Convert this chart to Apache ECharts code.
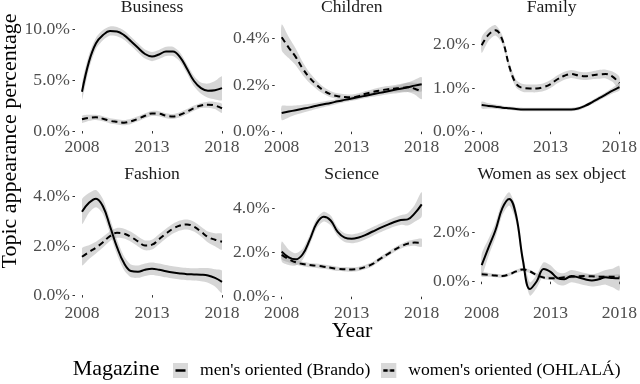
<!DOCTYPE html>
<html>
<head>
<meta charset="utf-8">
<script src="https://cdn.jsdelivr.net/npm/echarts@6/dist/echarts.min.js"></script>
<style>
  html, body { margin: 0; background: #fff; }
  #chart { width: 640px; height: 384px; }
</style>
</head>
<body>
<div id="chart"></div>
<script>
  // smoothed fits, every half year
  const years = [2008, 2008.5, 2009, 2009.5, 2010, 2010.5, 2011, 2011.5, 2012, 2012.5, 2013,
    2013.5, 2014, 2014.5, 2015, 2015.5, 2016, 2016.5, 2017, 2017.5, 2018]
  const xTicks = [2008, 2013, 2018]

  const businessMen = [3.85, 6.8, 8.6, 9.4, 9.8, 9.75, 9.4, 8.8, 8.15, 7.55, 7.3, 7.5, 7.8, 7.8, 7.25, 6.1, 4.9, 4.2, 3.95, 4.0, 4.2]
  const businessMenSe = [0.8, 0.7, 0.55, 0.5, 0.45, 0.45, 0.45, 0.45, 0.45, 0.45, 0.45, 0.45, 0.45, 0.45, 0.45, 0.45, 0.5, 0.55, 0.7, 0.9, 1.15]
  const businessWomen = [1.15, 1.3, 1.34, 1.2, 1.0, 0.9, 0.82, 0.95, 1.2, 1.5, 1.72, 1.7, 1.5, 1.42, 1.6, 1.9, 2.25, 2.5, 2.58, 2.5, 2.22]
  const businessWomenSe = [0.35, 0.3, 0.25, 0.25, 0.25, 0.25, 0.25, 0.25, 0.25, 0.25, 0.25, 0.25, 0.25, 0.25, 0.25, 0.25, 0.25, 0.25, 0.3, 0.35, 0.45]
  const businessTicks = [0, 5, 10]

  const childrenMen = [0.08, 0.086, 0.092, 0.098, 0.104, 0.111, 0.117, 0.123, 0.13, 0.136, 0.142, 0.148, 0.154, 0.16, 0.166, 0.172, 0.178, 0.184, 0.19, 0.197, 0.203]
  const childrenMenSe = [0.03, 0.025, 0.02, 0.017, 0.015, 0.013, 0.012, 0.011, 0.01, 0.01, 0.01, 0.01, 0.01, 0.011, 0.012, 0.013, 0.015, 0.017, 0.02, 0.025, 0.03]
  const childrenWomen = [0.404, 0.36, 0.32, 0.27, 0.23, 0.2, 0.176, 0.16, 0.152, 0.148, 0.147, 0.152, 0.162, 0.17, 0.176, 0.181, 0.184, 0.187, 0.19, 0.184, 0.171]
  const childrenWomenSe = [0.055, 0.045, 0.036, 0.028, 0.022, 0.018, 0.015, 0.013, 0.012, 0.012, 0.012, 0.012, 0.012, 0.012, 0.013, 0.014, 0.015, 0.017, 0.02, 0.025, 0.032]
  const childrenTicks = [0, 0.2, 0.4]

  const familyMen = [0.61, 0.59, 0.57, 0.55, 0.535, 0.52, 0.51, 0.51, 0.51, 0.51, 0.51, 0.51, 0.51, 0.51, 0.53, 0.59, 0.67, 0.76, 0.85, 0.94, 1.02]
  const familyMenSe = [0.08, 0.06, 0.05, 0.045, 0.04, 0.04, 0.04, 0.04, 0.04, 0.04, 0.04, 0.04, 0.04, 0.04, 0.04, 0.04, 0.045, 0.05, 0.055, 0.065, 0.08]
  const familyWomen = [1.98, 2.22, 2.32, 2.1, 1.5, 1.1, 1.0, 0.99, 0.99, 1.02, 1.09, 1.2, 1.28, 1.32, 1.29, 1.27, 1.29, 1.31, 1.32, 1.26, 1.11]
  const familyWomenSe = [0.18, 0.14, 0.12, 0.1, 0.1, 0.09, 0.09, 0.09, 0.09, 0.09, 0.09, 0.09, 0.09, 0.09, 0.09, 0.09, 0.09, 0.1, 0.1, 0.12, 0.15]
  const familyTicks = [0, 1, 2]

  const fashionMen = [3.39, 3.75, 3.92, 3.6, 2.8, 1.95, 1.3, 0.98, 0.95, 1.03, 1.07, 1.03, 0.97, 0.92, 0.88, 0.85, 0.84, 0.83, 0.8, 0.7, 0.54]
  const fashionMenSe = [0.5, 0.4, 0.35, 0.3, 0.3, 0.3, 0.28, 0.26, 0.25, 0.25, 0.25, 0.25, 0.25, 0.25, 0.25, 0.25, 0.25, 0.27, 0.3, 0.35, 0.45]
  const fashionWomen = [1.56, 1.75, 1.93, 2.15, 2.4, 2.53, 2.5, 2.37, 2.18, 2.02, 2.05, 2.27, 2.5, 2.7, 2.83, 2.87, 2.78, 2.58, 2.36, 2.25, 2.17]
  const fashionWomenSe = [0.35, 0.28, 0.24, 0.22, 0.2, 0.2, 0.2, 0.2, 0.2, 0.2, 0.2, 0.2, 0.2, 0.2, 0.2, 0.2, 0.2, 0.2, 0.22, 0.26, 0.32]
  const fashionTicks = [0, 2, 4]

  const scienceMen = [2.04, 1.78, 1.69, 1.92, 2.57, 3.32, 3.62, 3.45, 2.93, 2.67, 2.62, 2.68, 2.8, 2.95, 3.1, 3.24, 3.37, 3.47, 3.5, 3.77, 4.18]
  const scienceMenSe = [0.45, 0.35, 0.28, 0.25, 0.22, 0.22, 0.22, 0.22, 0.2, 0.2, 0.2, 0.2, 0.2, 0.2, 0.2, 0.2, 0.2, 0.22, 0.28, 0.38, 0.55]
  const scienceWomen = [1.89, 1.7, 1.56, 1.48, 1.43, 1.4, 1.36, 1.31, 1.26, 1.24, 1.23, 1.26, 1.35, 1.48, 1.7, 1.9, 2.1, 2.27, 2.4, 2.45, 2.44]
  const scienceWomenSe = [0.2, 0.15, 0.12, 0.1, 0.1, 0.1, 0.1, 0.1, 0.1, 0.1, 0.1, 0.1, 0.1, 0.1, 0.1, 0.1, 0.1, 0.1, 0.12, 0.14, 0.18]
  const scienceTicks = [0, 2, 4]

  const sexObjectMen = [0.68, 1.4, 2.1, 3.0, 3.38, 2.7, 0.85, -0.3, 0.02, 0.52, 0.4, 0.15, 0.1, 0.23, 0.18, 0.1, 0.05, 0.1, 0.18, 0.15, 0.14]
  const sexObjectMenSe = [0.45, 0.35, 0.3, 0.28, 0.27, 0.27, 0.27, 0.27, 0.27, 0.27, 0.27, 0.25, 0.25, 0.25, 0.25, 0.25, 0.25, 0.27, 0.3, 0.38, 0.5]
  const sexObjectWomen = [0.3, 0.28, 0.25, 0.23, 0.3, 0.42, 0.5, 0.42, 0.27, 0.17, 0.14, 0.15, 0.18, 0.2, 0.22, 0.23, 0.22, 0.2, 0.2, 0.2, 0.2]
  const sexObjectWomenSe = [0.1, 0.08, 0.07, 0.07, 0.07, 0.07, 0.07, 0.07, 0.07, 0.07, 0.07, 0.07, 0.07, 0.07, 0.07, 0.07, 0.07, 0.07, 0.07, 0.08, 0.1]
  const sexObjectTicks = [0, 2]

  const MEN = "men's oriented (Brando)"
  const WOMEN = "women's oriented (OHLALÁ)"
  const FONT = '"Liberation Serif", "DejaVu Serif", "Times New Roman", serif'

  const panels = [
    { title: 'Business', men: businessMen, menSe: businessMenSe, women: businessWomen, womenSe: businessWomenSe, ticks: businessTicks, min: -0.29, max: 10.88 },
    { title: 'Children', men: childrenMen, menSe: childrenMenSe, women: childrenWomen, womenSe: childrenWomenSe, ticks: childrenTicks, min: -0.01, max: 0.478 },
    { title: 'Family', men: familyMen, menSe: familyMenSe, women: familyWomen, womenSe: familyWomenSe, ticks: familyTicks, min: -0.053, max: 2.556 },
    { title: 'Fashion', men: fashionMen, menSe: fashionMenSe, women: fashionWomen, womenSe: fashionWomenSe, ticks: fashionTicks, min: -0.2, max: 4.435 },
    { title: 'Science', men: scienceMen, menSe: scienceMenSe, women: scienceWomen, womenSe: scienceWomenSe, ticks: scienceTicks, min: -0.15, max: 5.01 },
    { title: 'Women as sex object', men: sexObjectMen, menSe: sexObjectMenSe, women: sexObjectWomen, womenSe: sexObjectWomenSe, ticks: sexObjectTicks, min: -0.747, max: 3.906 }
  ]

  const colLeft = [82, 281.7, 481.7]
  const rowTop = [20, 186]
  const panelW = 140
  const panelH = 114
  const bandColor = 'rgba(153,153,153,0.4)'

  // legend key: grey box with a short solid or dashed stroke
  function keyIcon(dashed) {
    const c = document.createElement('canvas')
    c.width = 22
    c.height = 15
    const ctx = c.getContext('2d')
    ctx.fillStyle = '#d9d9d9'
    ctx.fillRect(0, 0, 15, 15)
    ctx.strokeStyle = '#000'
    ctx.lineWidth = 2.5
    ctx.beginPath()
    if (dashed) {
      ctx.moveTo(2, 7.5); ctx.lineTo(6.5, 7.5)
      ctx.moveTo(8.5, 7.5); ctx.lineTo(13, 7.5)
    } else {
      ctx.moveTo(2.5, 7.5); ctx.lineTo(12.5, 7.5)
    }
    ctx.stroke()
    return 'image://' + c.toDataURL()
  }

  // ribbon between fit - se and fit + se, placed with the axis scales
  function bandSeries(i, fit, se) {
    return {
      type: 'custom', xAxisIndex: i, yAxisIndex: i, silent: true, z: 1, clip: true,
      data: years.map((y, j) => [y, fit[j]]),
      renderItem: (params, api) => {
        if (params.dataIndex !== 0) return null
        const upper = years.map((y, j) => api.coord([y, fit[j] + se[j]]))
        const lower = years.map((y, j) => api.coord([y, fit[j] - se[j]])).reverse()
        return {
          type: 'polygon',
          shape: { points: upper.concat(lower), smooth: 0.25 },
          style: { fill: bandColor }
        }
      }
    }
  }

  const grid = []
  const xAxis = []
  const yAxis = []
  const series = []
  const graphic = []

  panels.forEach((p, i) => {
    const col = i % 3
    const row = Math.floor(i / 3)
    grid.push({ left: colLeft[col], top: rowTop[row], width: panelW, height: panelH })
    xAxis.push({
      gridIndex: i, type: 'value', min: 2008, max: 2018,
      axisLine: { show: false }, splitLine: { show: false },
      axisTick: { show: true, length: 2.5, lineStyle: { color: '#333' }, customValues: xTicks },
      axisLabel: { customValues: xTicks, margin: 4, color: '#4d4d4d', fontFamily: FONT, fontSize: 17.6, formatter: v => String(v) }
    })
    yAxis.push({
      gridIndex: i, type: 'value', min: p.min, max: p.max, offset: 7,
      axisLine: { show: false }, splitLine: { show: false },
      axisTick: { show: true, length: 2.5, lineStyle: { color: '#333' }, customValues: p.ticks },
      axisLabel: { customValues: p.ticks, margin: 5, color: '#4d4d4d', fontFamily: FONT, fontSize: 17.6, formatter: v => v.toFixed(1) + '%' }
    })

    series.push(bandSeries(i, p.men, p.menSe))
    series.push(bandSeries(i, p.women, p.womenSe))

    series.push({
      name: MEN, type: 'line', xAxisIndex: i, yAxisIndex: i,
      data: years.map((y, j) => [y, p.men[j]]),
      smooth: 0.4, symbol: 'none', color: '#000',
      lineStyle: { color: '#000', width: 2 }, z: 3
    })
    series.push({
      name: WOMEN, type: 'line', xAxisIndex: i, yAxisIndex: i,
      data: years.map((y, j) => [y, p.women[j]]),
      smooth: 0.4, symbol: 'none', color: '#000',
      lineStyle: { color: '#000', width: 2, type: [6, 4] }, z: 3
    })

    graphic.push({
      type: 'text', x: colLeft[col] + panelW / 2, y: row === 0 ? 7.5 : 174,
      style: { text: p.title, font: '17.6px ' + FONT, fill: '#1a1a1a', textAlign: 'center', textVerticalAlign: 'middle' }
    })
  })

  graphic.push(
    { type: 'text', x: 352, y: 331,
      style: { text: 'Year', font: '22px ' + FONT, fill: '#000', textAlign: 'center', textVerticalAlign: 'middle' } },
    { type: 'text', x: 10.5, y: 141, rotation: Math.PI / 2,
      style: { text: 'Topic appearance percentage', font: '22px ' + FONT, fill: '#000', textAlign: 'center', textVerticalAlign: 'middle' } },
    { type: 'text', x: 72.7, y: 369,
      style: { text: 'Magazine', font: '22px ' + FONT, fill: '#000', textAlign: 'left', textVerticalAlign: 'middle' } }
  )

  const chart = echarts.init(document.getElementById('chart'))
  chart.setOption({
    backgroundColor: '#fff',
    animation: false,
    grid,
    xAxis,
    yAxis,
    legend: {
      left: 173, top: 361.5, padding: 0,
      itemWidth: 22, itemHeight: 15, itemGap: 11,
      selectedMode: false,
      textStyle: { fontFamily: FONT, fontSize: 17.6, color: '#000' },
      data: [
        { name: MEN, icon: keyIcon(false) },
        { name: WOMEN, icon: keyIcon(true) }
      ]
    },
    graphic,
    series
  })
</script>
</body>
</html>
